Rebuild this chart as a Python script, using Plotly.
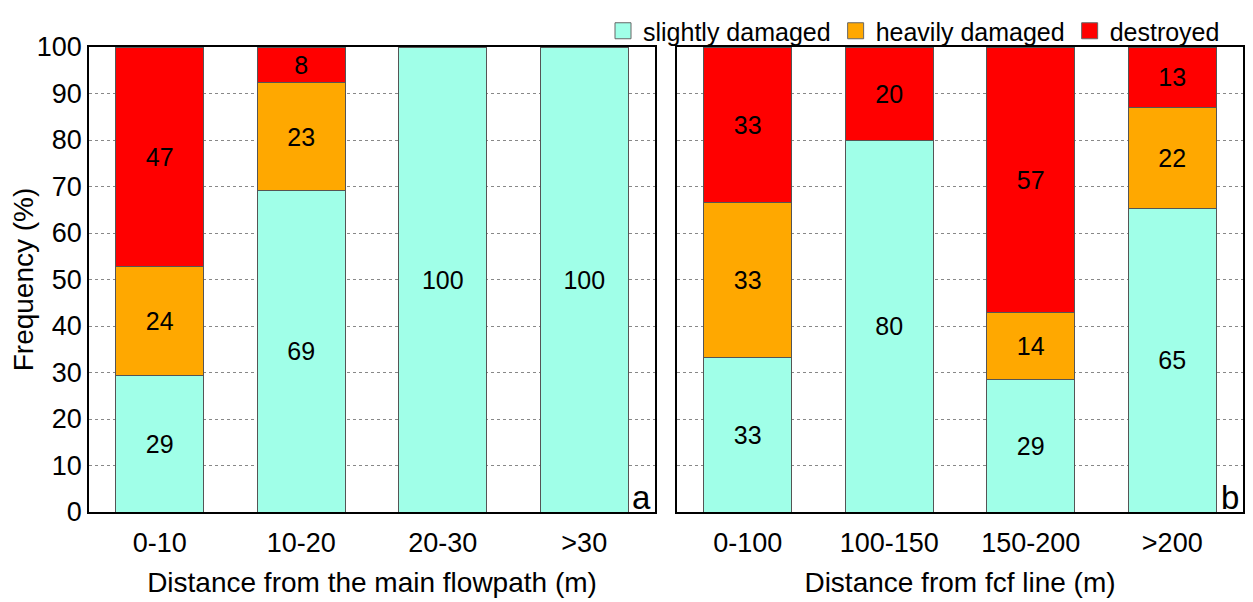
import plotly.graph_objects as go

cats_a = ["0-10", "10-20", "20-30", ">30"]
slight_a = [29.4, 69.2, 100, 100]
heavy_a = [23.5, 23.1, 0, 0]
destroyed_a = [47.1, 7.7, 0, 0]
slight_a_lbl = ["29", "69", "100", "100"]
heavy_a_lbl = ["24", "23", "", ""]
destroyed_a_lbl = ["47", "8", "", ""]

cats_b = ["0-100", "100-150", "150-200", ">200"]
slight_b = [33.3, 80.0, 28.6, 65.2]
heavy_b = [33.3, 0, 14.3, 21.7]
destroyed_b = [33.4, 20.0, 57.1, 13.1]
slight_b_lbl = ["33", "80", "29", "65"]
heavy_b_lbl = ["33", "", "14", "22"]
destroyed_b_lbl = ["33", "20", "57", "13"]

series_names = ["slightly damaged", "heavily damaged", "destroyed"]
colors = ["#A0FFE8", "#FFA800", "#FF0000"]
FONT = "Liberation Sans, Arial, sans-serif"

fig = go.Figure()

panels = [
    (cats_a, [slight_a, heavy_a, destroyed_a], [slight_a_lbl, heavy_a_lbl, destroyed_a_lbl], "x", "y"),
    (cats_b, [slight_b, heavy_b, destroyed_b], [slight_b_lbl, heavy_b_lbl, destroyed_b_lbl], "x2", "y2"),
]
for pi, (cats, vals, lbls, xa, ya) in enumerate(panels):
    for si in range(3):
        fig.add_trace(go.Bar(
            x=cats, y=vals[si], text=lbls[si], name=series_names[si],
            marker=dict(color=colors[si], line=dict(color="#555555", width=1)),
            textposition="inside", insidetextanchor="middle", textangle=0,
            constraintext="none",
            textfont=dict(size=25, color="black", family=FONT),
            width=0.62, xaxis=xa, yaxis=ya, showlegend=False,
        ))

# legend entries (square swatches)
for si in range(3):
    fig.add_trace(go.Scatter(
        x=[None], y=[None], mode="markers", name=series_names[si],
        marker=dict(symbol="square", size=21, color=colors[si],
                    line=dict(color="#666666", width=1)),
        showlegend=True, xaxis="x", yaxis="y",
    ))

# page body has an 8px margin, so the figure is laid out in page coords minus 8
W, H = 1245, 594
axis_common = dict(showline=True, linecolor="black", linewidth=1.5, mirror=True,
                   ticks="", automargin=False,
                   tickfont=dict(size=27, color="black", family=FONT))
fig.update_layout(
    width=W, height=H, barmode="stack", bargap=0.38,
    margin=dict(l=0, r=0, t=0, b=0),
    plot_bgcolor="white", paper_bgcolor="white",
    font=dict(family=FONT, color="black"),
    uniformtext=dict(mode=False),
    xaxis=dict(domain=[81 / W, 647 / W], anchor="y", ticklabelstandoff=6,
               title=dict(text="Distance from the main flowpath (m)", font=dict(size=28), standoff=15),
               **axis_common),
    xaxis2=dict(domain=[669 / W, 1235 / W], anchor="y2", ticklabelstandoff=6,
                title=dict(text="Distance from fcf line (m)", font=dict(size=28), standoff=15),
                **axis_common),
    yaxis=dict(domain=[90 / H, 555 / H], range=[0, 100], dtick=10,
               showgrid=True, gridcolor="#888888", griddash="dot", gridwidth=1,
               zeroline=False,
               title=dict(text="Frequency (%)", font=dict(size=28), standoff=6),
               **axis_common),
    yaxis2=dict(domain=[90 / H, 555 / H], range=[0, 100], dtick=10,
                showgrid=True, gridcolor="#888888", griddash="dot", gridwidth=1,
                zeroline=False, showticklabels=False, anchor="x2",
                **axis_common),
    legend=dict(orientation="h", x=595 / W, xanchor="left", y=1.0, yanchor="top",
                font=dict(size=25, family=FONT), traceorder="normal",
                itemsizing="trace", bgcolor="rgba(0,0,0,0)"),
    annotations=[
        dict(text="a", x=1, y=0, xref="x domain", yref="y domain", xanchor="right", yanchor="bottom",
             showarrow=False, font=dict(size=33, family=FONT), xshift=-2, yshift=-6),
        dict(text="b", x=1, y=0, xref="x2 domain", yref="y2 domain", xanchor="right", yanchor="bottom",
             showarrow=False, font=dict(size=33, family=FONT), xshift=-2, yshift=-6),
    ],
)

fig.write_html("out.html")
